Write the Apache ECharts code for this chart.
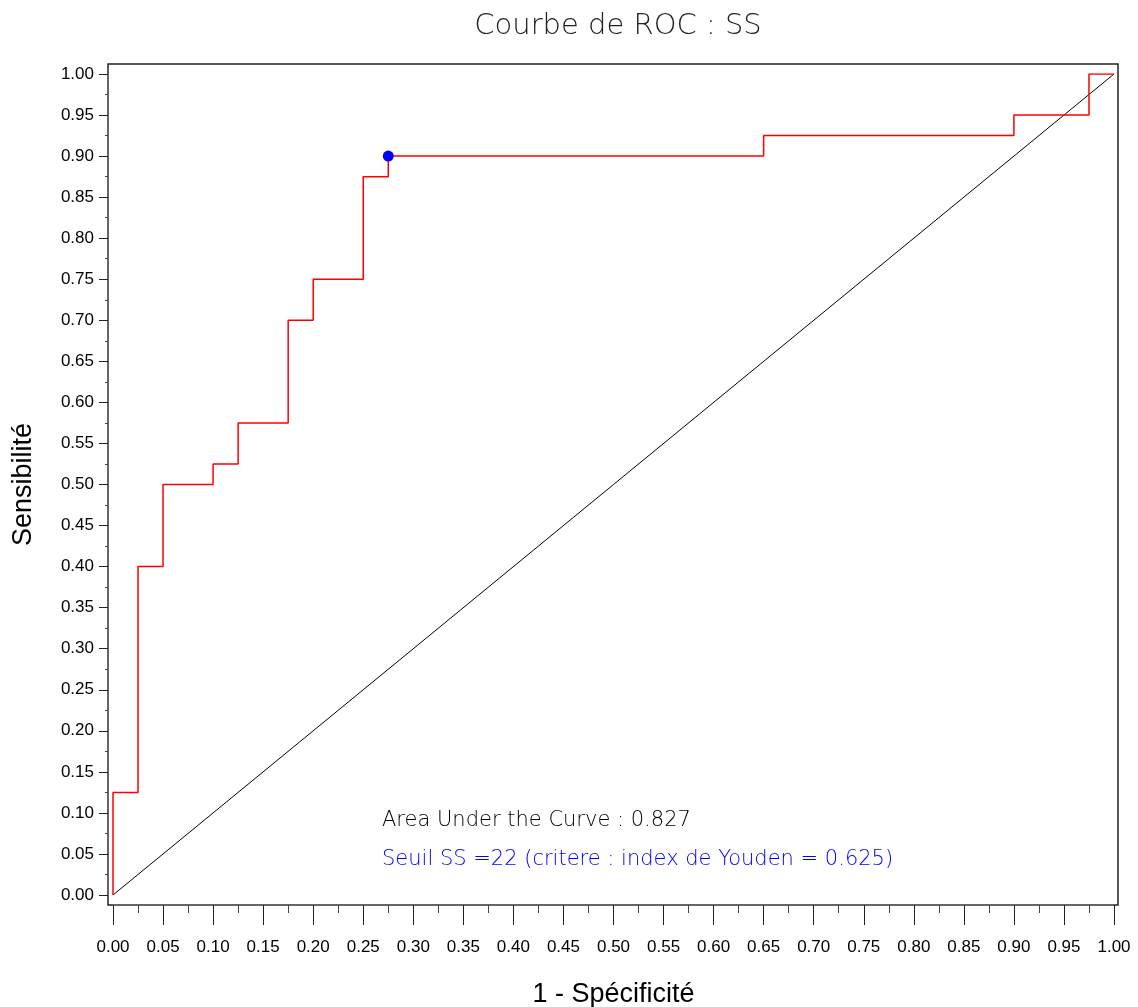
<!DOCTYPE html>
<html>
<head>
<meta charset="utf-8">
<script src="https://cdn.jsdelivr.net/npm/echarts@6/dist/echarts.min.js"></script>
<style>
  html, body { margin: 0; padding: 0; background: #fff; }
  #chart { width: 1138px; height: 1007px; }
</style>
</head>
<body>
<div id="chart"></div>
<script>
// ROC curve corners (1 - specificity, sensitivity)
const rocFpr = [0, 0, 0.025, 0.025, 0.05, 0.05, 0.10, 0.10, 0.125, 0.125, 0.175, 0.175, 0.20, 0.20, 0.25, 0.25, 0.275, 0.275, 0.65, 0.65, 0.90, 0.90, 0.975, 0.975, 1.0]
const rocTpr = [0, 0.125, 0.125, 0.40, 0.40, 0.50, 0.50, 0.525, 0.525, 0.575, 0.575, 0.70, 0.70, 0.75, 0.75, 0.875, 0.875, 0.90, 0.90, 0.925, 0.925, 0.95, 0.95, 1.0, 1.0]
const diagonal = [[0, 0], [1, 1]]
const youdenPoint = [0.275, 0.90]
const aucText = 'Area Under the Curve : 0.827'
const seuilText = 'Seuil SS =22 (critere : index de Youden = 0.625)'

const chart = echarts.init(document.getElementById('chart'))

const tickFmt = v => v.toFixed(2)
const labelFont = 'Liberation Sans, Arial, sans-serif'

const option = {
  animation: false,
  title: {
    text: 'Courbe de ROC : SS',
    left: 613,
    textAlign: 'center',
    top: 7,
    textStyle: {
      fontFamily: 'DejaVu Sans',
      fontWeight: 200,
      fontSize: 29,
      color: '#222'
    }
  },
  grid: { left: 113, right: 24, top: 74, bottom: 112, containLabel: false, outerBoundsMode: 'none' },
  xAxis: {
    type: 'value',
    min: 0,
    max: 1,
    interval: 0.05,
    offset: 10,
    name: '1 - Spécificité',
    nameLocation: 'middle',
    nameGap: 76,
    nameTextStyle: { fontFamily: labelFont, fontSize: 27, color: '#000' },
    axisLine: { show: true, onZero: false, lineStyle: { color: '#666', width: 2 } },
    axisTick: { show: true, length: 20, lineStyle: { color: '#222' } },
    minorTick: { show: true, splitNumber: 2, length: 8, lineStyle: { color: '#444' } },
    splitLine: { show: false },
    axisLabel: { margin: 34, fontFamily: labelFont, fontSize: 17, color: '#000', formatter: tickFmt }
  },
  yAxis: {
    type: 'value',
    min: 0,
    max: 1,
    interval: 0.05,
    offset: 5,
    name: 'Sensibilité',
    nameLocation: 'middle',
    nameGap: 71,
    nameTextStyle: { fontFamily: labelFont, fontSize: 27, color: '#000' },
    axisLine: { show: true, onZero: false, lineStyle: { color: '#666', width: 2 } },
    axisTick: { show: true, length: 9, lineStyle: { color: '#222' } },
    minorTick: { show: true, splitNumber: 2, length: 3, lineStyle: { color: '#444' } },
    splitLine: { show: false },
    axisLabel: { margin: 14, fontFamily: labelFont, fontSize: 17, color: '#000', formatter: tickFmt }
  },
  graphic: [
    {
      type: 'rect',
      shape: { x: 108, y: 64, width: 1010, height: 841 },
      style: { fill: 'none', stroke: '#222', lineWidth: 1.5 },
      z: -1
    },
    {
      type: 'text',
      left: 382,
      top: 810,
      style: { text: aucText, fontFamily: 'DejaVu Sans', fontWeight: 200, fontSize: 21, fill: '#000' }
    },
    {
      type: 'text',
      left: 382,
      top: 849,
      style: { text: seuilText, fontFamily: 'DejaVu Sans', fontWeight: 200, fontSize: 21, fill: '#0000ff' }
    }
  ],
  series: [
    {
      name: 'diagonale',
      type: 'line',
      data: diagonal,
      symbol: 'none',
      lineStyle: { color: '#000', width: 1 }
    },
    {
      name: 'ROC',
      type: 'line',
      data: rocFpr.map((x, i) => [x, rocTpr[i]]),
      symbol: 'none',
      lineStyle: { color: '#ff0000', width: 1.5 }
    },
    {
      name: 'Youden',
      type: 'scatter',
      data: [youdenPoint],
      symbolSize: 11,
      z: 10,
      itemStyle: { color: '#0000ff', opacity: 1 }
    }
  ]
}

chart.setOption(option)
</script>
</body>
</html>
